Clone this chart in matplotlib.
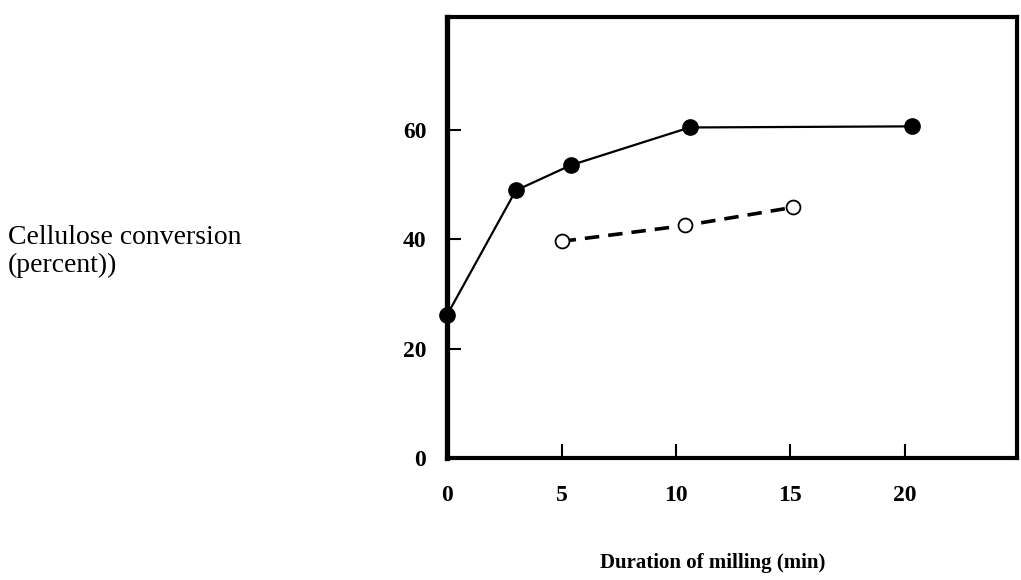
import matplotlib.pyplot as plt

# milled samples (filled) and unmilled comparison (open)
milled_x = [0, 3, 5.4, 10.6, 20.3]
milled_y = [26.2, 48.9, 53.5, 60.4, 60.6]
open_x = [5.0, 10.4, 15.1]
open_y = [39.6, 42.5, 45.8]

x_ticks = [0, 5, 10, 15, 20]
y_ticks = [0, 20, 40, 60]

plt.rcParams['font.family'] = ['Liberation Serif', 'DejaVu Serif']

fig = plt.figure(figsize=(10.21, 5.8), dpi=100)
ax = fig.add_axes([0.438, 0.21, 0.558, 0.76])

ax.plot(milled_x, milled_y, '-', color='black', linewidth=1.6,
        marker='o', markersize=11, markerfacecolor='black', markeredgecolor='black',
        clip_on=False, zorder=3)
ax.plot(open_x, open_y, '--', color='black', linewidth=2.6, dashes=(4, 2.5),
        marker='o', markersize=10, markerfacecolor='white', markeredgecolor='black',
        markeredgewidth=1.3, clip_on=False, zorder=3)

ax.set_xlim(0, 24.9)
ax.set_ylim(0, 80.5)
ax.set_xticks(x_ticks)
ax.set_yticks(y_ticks)

for side in ['left', 'right', 'top', 'bottom']:
    ax.spines[side].set_linewidth(3)
ax.spines['left'].set_linewidth(3.8)

ax.tick_params(axis='both', direction='in', length=10, width=1.5, labelsize=17)
ax.tick_params(axis='x', pad=19)
ax.tick_params(axis='y', pad=15)
for lab in ax.get_xticklabels() + ax.get_yticklabels():
    lab.set_fontweight('bold')

fig.text(0.008, 0.566, 'Cellulose conversion\n(percent))', fontsize=20,
         ha='left', va='center', linespacing=1.15)
fig.text(0.698, 0.03, 'Duration of milling (min)', fontsize=15,
         ha='center', va='center', fontweight='bold')

fig.savefig('out.png', dpi=100)
